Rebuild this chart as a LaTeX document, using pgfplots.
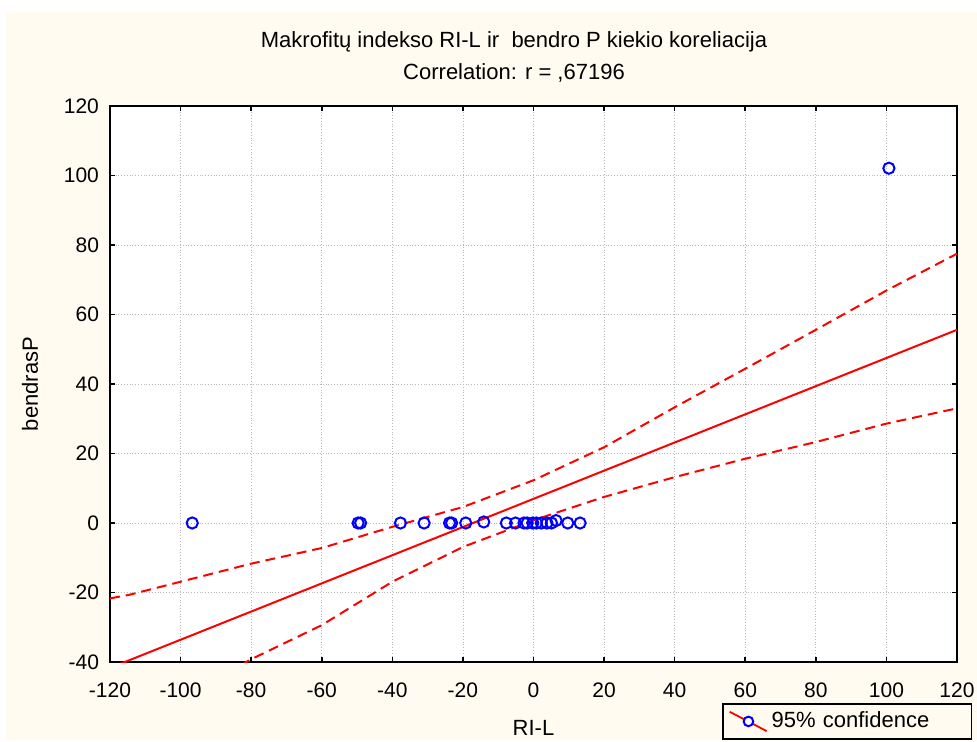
\documentclass[border=0pt]{standalone}
\usepackage{pgfplots}
\pgfplotsset{compat=1.18}
\usepackage{fontspec}
\setmainfont{Liberation Sans}
\definecolor{cream}{RGB}{255,251,240}
\definecolor{ptblue}{RGB}{0,0,255}
\begin{document}
\begin{tikzpicture}
% 1 px = 0.5pt, origin at top-left
\useasboundingbox (0,0) rectangle (488.5pt,-371pt);
\fill[white] (0,0) rectangle (488.5pt,-371pt);
\fill[cream] (3pt,-6pt) rectangle (488.5pt,-370pt);
\node[font=\fontsize{11}{13}\selectfont] at (257pt,-21pt) {Makrofitų indekso RI-L ir\ \ bendro P kiekio koreliacija};
\node[font=\fontsize{11}{13}\selectfont] at (257pt,-36.5pt) {Correlation: r = ,67196};
\begin{axis}[
  at={(55pt,-331pt)}, anchor=south west,
  scale only axis, width=423.5pt, height=278pt,
  xmin=-120, xmax=120, ymin=-40, ymax=120,
  xtick={-120,-100,...,120}, ytick={-40,-20,...,120},
  axis background/.style={fill=white},
  axis line style={black, line width=1pt},
  tick align=inside, major tick length=2.5pt,
  tick style={black, line width=0.8pt},
  grid=major, major grid style={gray!55, densely dotted, line width=0.4pt},
  /pgf/number format/assume math mode=true,
  ticklabel style={font=\fontsize{10.5}{12}\selectfont},
  xticklabel style={yshift=-7pt},
  yticklabel style={xshift=-2pt},
  xlabel={RI-L}, ylabel={bendrasP},
  label style={font=\fontsize{11}{13}\selectfont},
  xlabel style={yshift=-4.5pt},
  ylabel style={yshift=6pt},
  clip=true,
  legend style={at={(0.7225,-0.074)}, anchor=north west, draw=black, fill=cream,
    line width=0.8pt, font=\fontsize{11}{13}\selectfont,
    inner xsep=3pt, inner ysep=2pt, nodes={text width=95pt, align=left}},
  legend cell align=left,
]
% confidence band upper
\addplot[red, line width=1pt, dash pattern=on 5pt off 3pt, forget plot] coordinates {
(-120,-21.7) (-114.3,-20.6) (-100,-16.9) (-80,-11.7) (-60,-7.2) (-40,-1.1) (-20,4.6) (0,12.3) (20,21.8) (40,33.3) (60,44.4) (80,55.6) (100,66.9) (120,77.5)};
% confidence band lower
\addplot[red, line width=1pt, dash pattern=on 5pt off 3pt, forget plot] coordinates {
(-83,-41) (-80,-39.2) (-60,-29.4) (-40,-16.9) (-20,-6.9) (0,0.8) (20,7.5) (40,13.2) (60,18.5) (80,23.3) (100,28.6) (120,33.0)};
% regression line
\addplot[red, line width=1pt, forget plot] coordinates {(-120,-41.7) (120,55.6)};
% data
\addplot[only marks, mark=o, mark size=2.8pt, ptblue, line width=1pt,
  legend image code/.code={
    \draw[red, line width=0.9pt] (0cm,0.17cm) -- (0.65cm,-0.17cm);
    \draw[ptblue, line width=1pt, fill=white] (0.33cm,0cm) circle (2.4pt);
  }] coordinates {
(-96.7,0) (-49.7,0) (-49.0,0) (-37.7,0) (-31.0,0) (-23.8,0) (-23.2,0) (-19.2,0) (-14.1,0.3)
(-7.7,0) (-5.1,0) (-2.7,0) (-1.8,0) (-0.2,0) (0.8,0) (2.2,0) (3.8,0) (5.1,0) (6.4,0.7)
(9.7,0) (13.2,0) (100.7,102.1)};
\addlegendentry{95\% confidence}
\end{axis}
\end{tikzpicture}
\end{document}
